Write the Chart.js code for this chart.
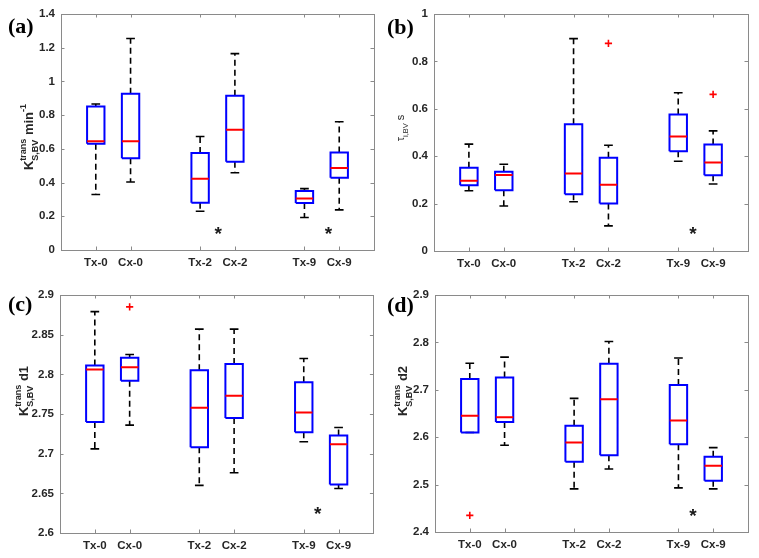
<!DOCTYPE html>
<html><head><meta charset="utf-8">
<script src="https://cdn.jsdelivr.net/npm/chart.js@4.4.0/dist/chart.umd.min.js"></script>
<style>
html,body{margin:0;padding:0;background:#fff;}
#fig{position:relative;width:759px;height:558px;overflow:hidden;background:#fff;}
#fig canvas{position:absolute;}
</style></head><body>
<div id="fig">
<canvas id="ca" width="379" height="279" style="left:0;top:0"></canvas>
<canvas id="cb" width="380" height="279" style="left:379px;top:0"></canvas>
<canvas id="cc" width="379" height="279" style="left:0;top:279px"></canvas>
<canvas id="cd" width="380" height="279" style="left:379px;top:279px"></canvas>
</div>
<script>
// ---------- data ----------
const categories = ['Tx-0','Cx-0','Tx-2','Cx-2','Tx-9','Cx-9'];
const positions  = [1,2,4,5,7,8];

// (a) Ktrans S,BV min^-1
const aMin = [0.329,0.403,0.230,0.458,0.193,0.238];
const aQ1  = [0.630,0.545,0.281,0.523,0.279,0.428];
const aMed = [0.645,0.645,0.423,0.714,0.305,0.487];
const aQ3  = [0.852,0.927,0.575,0.915,0.350,0.578];
const aMax = [0.866,1.255,0.673,1.165,0.364,0.761];
const aOutPos = [], aOutVal = [];
const aStarPos = [4.52, 7.69], aStarVal = [0.119, 0.119];
const aTicks = [0,0.2,0.4,0.6,0.8,1,1.2,1.4];
const aTickLabels = ['0','0.2','0.4','0.6','0.8','1','1.2','1.4'];

// (b) tau i,BV s
const bMin = [0.254,0.190,0.208,0.106,0.379,0.283];
const bQ1  = [0.277,0.256,0.239,0.200,0.421,0.320];
const bMed = [0.296,0.321,0.327,0.280,0.483,0.373];
const bQ3  = [0.351,0.334,0.535,0.393,0.576,0.449];
const bMax = [0.451,0.366,0.896,0.446,0.668,0.507];
const bOutPos = [5, 8], bOutVal = [0.876, 0.661];
const bStarPos = [7.42], bStarVal = [0.089];
const bTicks = [0,0.2,0.4,0.6,0.8,1];
const bTickLabels = ['0','0.2','0.4','0.6','0.8','1'];

// (c) Ktrans S,BV d1
const cMin = [2.706,2.736,2.660,2.676,2.715,2.656];
const cQ1  = [2.740,2.792,2.708,2.745,2.727,2.661];
const cMed = [2.806,2.809,2.758,2.773,2.752,2.712];
const cQ3  = [2.811,2.821,2.805,2.813,2.790,2.723];
const cMax = [2.879,2.825,2.857,2.857,2.820,2.733];
const cOutPos = [2], cOutVal = [2.885];
const cStarPos = [7.40], cStarVal = [2.629];
const cTicks = [2.6,2.65,2.7,2.75,2.8,2.85,2.9];
const cTickLabels = ['2.6','2.65','2.7','2.75','2.8','2.85','2.9'];

// (d) Ktrans S,BV d2
const dMin = [2.610,2.583,2.491,2.533,2.493,2.491];
const dQ1  = [2.610,2.632,2.548,2.562,2.585,2.508];
const dMed = [2.645,2.642,2.589,2.680,2.635,2.540];
const dQ3  = [2.723,2.726,2.624,2.755,2.710,2.559];
const dMax = [2.756,2.769,2.682,2.802,2.767,2.578];
const dOutPos = [1], dOutVal = [2.435];
const dStarPos = [7.42], dStarVal = [2.443];
const dTicks = [2.4,2.5,2.6,2.7,2.8,2.9];
const dTickLabels = ['2.4','2.5','2.6','2.7','2.8','2.9'];

// ---------- helpers ----------
const SANS = "'Liberation Sans', Arial, Helvetica, sans-serif";
const SERIF = "'Liberation Serif', 'Times New Roman', serif";
const FRAME = '#8a8a8a';
const TXT = '#262626';

function buildDatasets(mn,q1,md,q3,mx,outPos,outVal){
  const hw = 0.25, cw = 0.125;
  const whisk=[], caps=[], boxes=[], meds=[];
  positions.forEach((p,i)=>{
    whisk.push({x:p,y:q3[i]},{x:p,y:mx[i]},{x:p,y:null},{x:p,y:q1[i]},{x:p,y:mn[i]},{x:p,y:null});
    caps.push({x:p-cw,y:mx[i]},{x:p+cw,y:mx[i]},{x:p,y:null},{x:p-cw,y:mn[i]},{x:p+cw,y:mn[i]},{x:p,y:null});
    boxes.push({x:p-hw,y:q1[i]},{x:p+hw,y:q1[i]},{x:p+hw,y:q3[i]},{x:p-hw,y:q3[i]},{x:p-hw,y:q1[i]},{x:p,y:null});
    meds.push({x:p-hw,y:md[i]},{x:p+hw,y:md[i]},{x:p,y:null});
  });
  const outs = outPos.map((p,i)=>({x:p,y:outVal[i]}));
  const line = {showLine:true, pointRadius:0, pointHoverRadius:0, spanGaps:false, tension:0, fill:false, borderCapStyle:'butt', borderJoinStyle:'miter'};
  return [
    Object.assign({label:'median', data:meds, borderColor:'#ff0000', borderWidth:2, order:0}, line),
    Object.assign({label:'box', data:boxes, borderColor:'#0000ff', borderWidth:2, order:1}, line),
    Object.assign({label:'caps', data:caps, borderColor:'#000000', borderWidth:1.6, order:2}, line),
    Object.assign({label:'whiskers', data:whisk, borderColor:'#000000', borderWidth:1.6, borderDash:[6,4], order:3}, line),
    {label:'outliers', data:outs, showLine:false, pointStyle:'cross', pointRadius:3.6, borderColor:'#ff0000', borderWidth:1.6, backgroundColor:'#ff0000', order:0}
  ];
}

function drawRich(ctx, parts, cx, cy, baselineX){
  // rotated text reading bottom-to-top; baselineX is screen x of main baseline
  ctx.save();
  ctx.translate(baselineX, cy);
  ctx.rotate(-Math.PI/2);
  ctx.fillStyle = TXT;
  ctx.textBaseline = 'alphabetic';
  ctx.textAlign = 'left';
  const widths = parts.map(p=>{
    if (p.stack){ return Math.max(...p.stack.map(s=>{ctx.font=s.f; return ctx.measureText(s.t).width;})); }
    ctx.font = p.f; return ctx.measureText(p.t).width;
  });
  const total = widths.reduce((a,b)=>a+b,0);
  let x = -total/2;
  parts.forEach((p,i)=>{
    if (p.stack){ p.stack.forEach(s=>{ctx.font=s.f; ctx.fillText(s.t, x, s.dy);}); }
    else { ctx.font=p.f; ctx.fillText(p.t, x, p.dy||0); }
    x += widths[i];
  });
  ctx.restore();
}

function makeChart(id, cfg){
  const canvas = document.getElementById(id);
  const W = canvas.width, H = canvas.height;
  const area = cfg.area; // {l,t,r,b}
  const deco = {
    id:'deco_'+id,
    afterDatasetsDraw(chart){
      const ctx = chart.ctx, ca = chart.chartArea;
      const xs = chart.scales.x, ys = chart.scales.y;
      // stars
      ctx.save();
      ctx.fillStyle = '#1a1a1a';
      ctx.font = 'bold 19px ' + SANS;
      ctx.textAlign = 'center';
      ctx.textBaseline = 'alphabetic';
      cfg.starPos.forEach((p,i)=>{
        const px = xs.getPixelForValue(p), py = ys.getPixelForValue(cfg.starVal[i]);
        ctx.fillText('*', px, py + 10.5);
      });
      ctx.restore();
      // frame
      ctx.save();
      ctx.strokeStyle = FRAME; ctx.lineWidth = 1;
      ctx.strokeRect(Math.round(ca.left)+0.5, Math.round(ca.top)+0.5, Math.round(ca.right-ca.left), Math.round(ca.bottom-ca.top));
      const tl = 3.5;
      ctx.beginPath();
      ys.ticks.forEach(t=>{
        const y = Math.round(ys.getPixelForValue(t.value))+0.5;
        ctx.moveTo(ca.left, y); ctx.lineTo(ca.left+tl, y);
        ctx.moveTo(ca.right, y); ctx.lineTo(ca.right-tl, y);
      });
      xs.ticks.forEach(t=>{
        const x = Math.round(xs.getPixelForValue(t.value))+0.5;
        ctx.moveTo(x, ca.bottom); ctx.lineTo(x, ca.bottom-tl);
        ctx.moveTo(x, ca.top); ctx.lineTo(x, ca.top+tl);
      });
      ctx.stroke();
      ctx.restore();
    },
    afterDraw(chart){
      const ctx = chart.ctx;
      ctx.save();
      ctx.fillStyle = '#000';
      ctx.font = 'bold 22px ' + SERIF;
      ctx.textAlign = 'left'; ctx.textBaseline = 'alphabetic';
      ctx.fillText(cfg.panel, cfg.panelX, cfg.panelY);
      ctx.restore();
      drawRich(ctx, cfg.title, 0, cfg.titleY, cfg.titleX);
    }
  };
  return new Chart(canvas, {
    type:'scatter',
    data:{datasets: buildDatasets(...cfg.data)},
    options:{
      responsive:false, animation:false, devicePixelRatio:1,
      layout:{padding:{left:0, top:area.t, right:W-area.r, bottom:0}},
      plugins:{legend:{display:false}, tooltip:{enabled:false}},
      scales:{
        x:{type:'linear', min:0, max:9,
           grid:{display:false, drawTicks:false}, border:{display:false},
           afterBuildTicks:(s)=>{ s.ticks = positions.map(v=>({value:v})); },
           afterFit:(s)=>{ s.height = H-area.b; },
           ticks:{padding:6, color:TXT, font:{family:SANS, size:11.5, weight:'bold'},
                  maxRotation:0, autoSkip:false,
                  callback:(v)=>{ const i = positions.indexOf(v); return i>=0 ? categories[i] : ''; }}},
        y:{type:'linear', min:cfg.yTicks[0], max:cfg.yTicks[cfg.yTicks.length-1],
           grid:{display:false, drawTicks:false}, border:{display:false},
           afterBuildTicks:(s)=>{ s.ticks = cfg.yTicks.map(v=>({value:v})); },
           afterFit:(s)=>{ s.width = area.l; },
           ticks:{padding:6, color:TXT, font:{family:SANS, size:11.5, weight:'bold'}, autoSkip:false,
                  callback:(v)=>{ const i = cfg.yTicks.findIndex(t=>Math.abs(t-v)<1e-9); return i>=0 ? cfg.yLabels[i] : ''; }}}
      }
    },
    plugins:[deco]
  });
}

const B13 = 'bold 13px ' + SANS, B9 = 'bold 9px ' + SANS;
const ktransTitle = (tail, sup) => {
  const arr = [{t:'K', f:B13, dy:0}, {stack:[{t:'trans', f:B9, dy:-7},{t:'S,BV', f:B9, dy:4.5}]}, {t:tail, f:B13, dy:0}];
  if (sup) arr.push({t:sup, f:B9, dy:-7});
  return arr;
};

makeChart('ca', {area:{l:61,t:14,r:374,b:250}, data:[aMin,aQ1,aMed,aQ3,aMax,aOutPos,aOutVal],
  starPos:aStarPos, starVal:aStarVal, yTicks:aTicks, yLabels:aTickLabels,
  panel:'(a)', panelX:8, panelY:33, title:ktransTitle(' min','-1'), titleX:33, titleY:137});
makeChart('cb', {area:{l:55,t:14,r:369,b:251}, data:[bMin,bQ1,bMed,bQ3,bMax,bOutPos,bOutVal],
  starPos:bStarPos, starVal:bStarVal, yTicks:bTicks, yLabels:bTickLabels,
  panel:'(b)', panelX:8, panelY:34,
  title:[{t:'\u03C4', f:'11px '+SANS, dy:0},{t:'i,BV', f:'7.5px '+SANS, dy:3.5},{t:' s', f:'11px '+SANS, dy:0}],
  titleX:25, titleY:128});
makeChart('cc', {area:{l:60,t:16,r:374,b:254}, data:[cMin,cQ1,cMed,cQ3,cMax,cOutPos,cOutVal],
  starPos:cStarPos, starVal:cStarVal, yTicks:cTicks, yLabels:cTickLabels,
  panel:'(c)', panelX:8, panelY:32, title:ktransTitle(' d1'), titleX:28, titleY:112});
makeChart('cd', {area:{l:56,t:16,r:369,b:253}, data:[dMin,dQ1,dMed,dQ3,dMax,dOutPos,dOutVal],
  starPos:dStarPos, starVal:dStarVal, yTicks:dTicks, yLabels:dTickLabels,
  panel:'(d)', panelX:8, panelY:33, title:ktransTitle(' d2'), titleX:28, titleY:112});
</script>
</body></html>
